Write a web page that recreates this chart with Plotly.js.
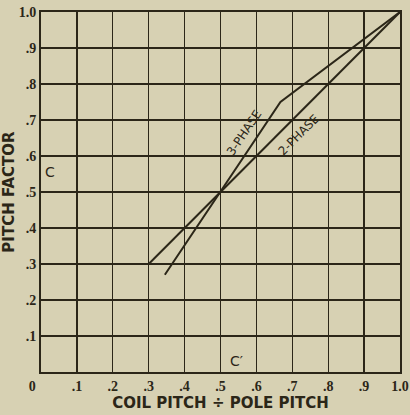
<!DOCTYPE html>
<html>
<head>
<meta charset="utf-8">
<script src="https://cdn.plot.ly/plotly-3.0.1.min.js"></script>
<style>html,body{margin:0;padding:0;background:#d7d1b3;}</style>
</head>
<body>
<div id="chart" style="width:410px;height:415px;"></div>
<script>
// Data
const twoPhaseX = [0.30, 0.50, 1.00];
const twoPhaseY = [0.30, 0.50, 1.00];
const threePhaseX = [0.345, 0.50, 0.667, 1.00];
const threePhaseY = [0.27, 0.50, 0.75, 1.00];
const xTickVals = [0, 0.1, 0.2, 0.3, 0.4, 0.5, 0.6, 0.7, 0.8, 0.9, 1.0];
const xTickText = ["0\u00a0\u00a0\u00a0\u00a0\u00a0", ".1", ".2", ".3", ".4", ".5", ".6", ".7", ".8", ".9", "1.0"];
const yTickVals = [0.1, 0.2, 0.3, 0.4, 0.5, 0.6, 0.7, 0.8, 0.9, 1.0];
const yTickText = [".1", ".2", ".3", ".4", ".5", ".6", ".7", ".8", ".9", "1.0"];

const ink = "#2b2618";
const bg = "#d7d1b3";

const traces = [
  {x: twoPhaseX, y: twoPhaseY, mode: "lines", name: "2-PHASE",
   line: {color: ink, width: 2}, hoverinfo: "skip"},
  {x: threePhaseX, y: threePhaseY, mode: "lines", name: "3-PHASE",
   line: {color: ink, width: 2}, hoverinfo: "skip"}
];

const serif = {family: "Liberation Serif, DejaVu Serif, serif", size: 14, color: ink, weight: "bold"};
const sansFam = "DejaVu Sans, Liberation Sans, sans-serif";

const layout = {
  width: 410, height: 415,
  margin: {l: 41, r: 10, t: 12, b: 43},
  paper_bgcolor: bg, plot_bgcolor: bg,
  showlegend: false,
  xaxis: {
    range: [0, 1], tickvals: xTickVals, ticktext: xTickText,
    showgrid: true, gridcolor: ink, gridwidth: 1.3,
    showline: true, linecolor: ink, linewidth: 2, mirror: true,
    zeroline: false, ticks: "", ticklen: 0, tickfont: serif,
    title: {text: "COIL PITCH ÷ POLE PITCH", font: {family: sansFam, size: 15, color: ink, weight: "bold"}, standoff: 4}
  },
  yaxis: {
    range: [0, 1], tickvals: yTickVals, ticktext: yTickText,
    showgrid: true, gridcolor: ink, gridwidth: 1.3,
    showline: true, linecolor: ink, linewidth: 2, mirror: true,
    zeroline: false, ticks: "", ticklen: 0, tickfont: serif,
    title: {text: "PITCH FACTOR", font: {family: sansFam, size: 15, color: ink, weight: "bold"}, standoff: 2}
  },
  annotations: [
    {x: 0.565, y: 0.665, xref: "x", yref: "y", text: "3-PHASE", showarrow: false,
     textangle: -56, font: {family: sansFam, size: 12, color: ink}},
    {x: 0.718, y: 0.658, xref: "x", yref: "y", text: "2-PHASE", showarrow: false,
     textangle: -45, font: {family: sansFam, size: 12, color: ink}},
    {x: 0.024, y: 0.555, xref: "x", yref: "y", text: "C", showarrow: false,
     xanchor: "center", font: {family: sansFam, size: 14, color: ink}},
    {x: 0.545, y: 0.03, xref: "x", yref: "y", text: "C′", showarrow: false,
     xanchor: "center", font: {family: sansFam, size: 14, color: ink}}
  ]
};

Plotly.newPlot("chart", traces, layout, {staticPlot: true, displayModeBar: false});
</script>
</body>
</html>
